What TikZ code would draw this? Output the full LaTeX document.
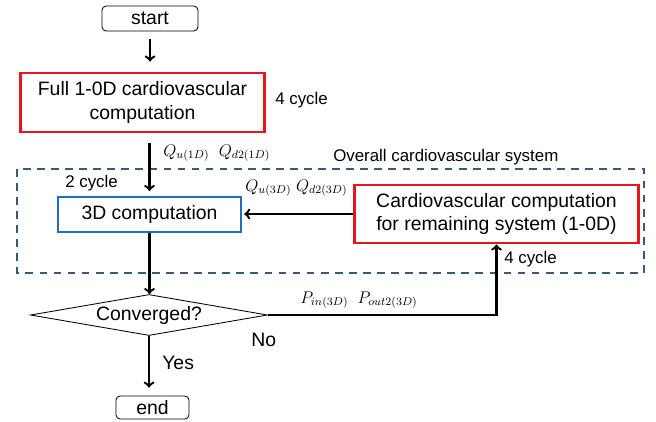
\documentclass[tikz,border=0pt]{standalone}
\usepackage{fontspec}
\setmainfont{Liberation Sans}
\usetikzlibrary{shapes.geometric}
\definecolor{boxred}{RGB}{228,22,30}
\definecolor{boxblue}{RGB}{31,112,184}
\definecolor{dashblue}{RGB}{58,88,128}

\begin{document}
\begin{tikzpicture}[x = 0.025cm, y = -0.025cm,
		txt/.style = {font = \fontsize{13.8}{16.5}\selectfont, align = center, inner sep = 0},
		lbl/.style = {font = \fontsize{12}{14}\selectfont, inner sep = 0, anchor = west},
		mth/.style = {font = \fontsize{12}{14}\selectfont, inner sep = 0, anchor = west},
		termbox/.style = {txt, draw, line width = 0.6pt, rounded corners = 3pt},
		redbox/.style = {txt, draw = boxred, line width = 2.1pt},
		flow/.style = {->, line width = 1.7pt}]
		\useasboundingbox (0,0) rectangle (656,421);
		\draw [dashblue, line width = 1.7pt, dash pattern = on 5.5pt off 4.5pt] (17,169) rectangle (644,273);
		\node [termbox, minimum width = 2.4cm, minimum height = 0.625cm] (start) at (150,18.5) {start};
		\node [redbox, minimum width = 6.075cm, minimum height = 1.475cm] (full) at (142.5,102.5) {Full 1-0D cardiovascular\\computation};
		\node [lbl] (cyc1) at (275,100) {4 cycle};
		\node [mth] (qin) at (163,153) {$Q_{u(1D)}$\ \ $Q_{d2(1D)}$};
		\node [lbl] (sys) at (333,157) {Overall cardiovascular system};
		\node [lbl] (cyc2) at (65,183) {2 cycle};
		\node [txt, draw = boxblue, line width = 1.7pt, minimum width = 4.575cm, minimum height = 0.875cm] (comp) at (149.5,214.5) {3D computation};
		\node [mth] (qout) at (245,188) {$Q_{u(3D)}$\ $Q_{d2(3D)}$};
		\node [redbox, minimum width = 7.075cm, minimum height = 1.45cm] (rest) at (496.5,214) {Cardiovascular computation\\for remaining system (1-0D)};
		\node [lbl] (cyc3) at (504,259) {4 cycle};
		\node [txt, diamond, draw, line width = 0.6pt, aspect = 5.8, minimum width = 5.925cm, minimum height = 1.025cm] (conv) at (149,315) {Converged?};
		\node [mth] (pout) at (300,300) {$P_{in(3D)}$\ \ $P_{out2(3D)}$};
		\node [txt, anchor = west] (no) at (251,340) {No};
		\node [txt, anchor = west] (yes) at (162,363) {Yes};
		\node [termbox, minimum width = 1.825cm, minimum height = 0.575cm] (end) at (152.5,407.5) {end};
		\draw [flow, shorten <= 0.2cm, shorten >= 0.25cm] (start.south) -- (start.south |- full.north);
		\draw [flow, shorten <= 0.25cm, shorten >= 0.12cm] (full.south -| comp.north) -- (comp.north);
		\draw [flow, shorten >= 0.05cm] (rest.west) -- (rest.west -| comp.east);
		\draw [flow] (comp.south) -- (comp.south |- conv.north);
		\draw [flow] (conv.east) -| (rest.south);
		\draw [flow, shorten >= 0.2cm] (conv.south) -- (conv.south |- end.north);
	\end{tikzpicture}
\end{document}
